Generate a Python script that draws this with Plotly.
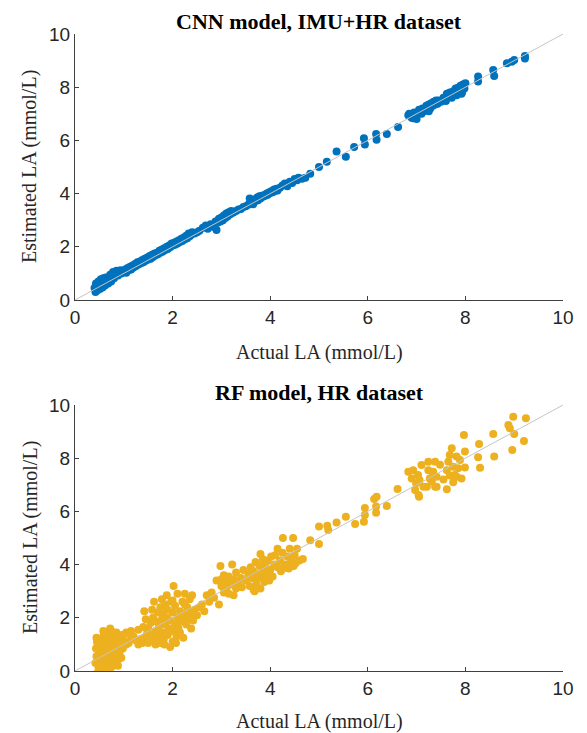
import plotly.graph_objects as go

# ---------------- data ----------------
cnn_x = [0.40,0.42,0.43,0.45,0.47,0.48,0.50,0.52,0.53,0.55,0.57,0.58,0.60,0.62,0.63,0.65,0.68,0.70,0.72,0.74,
         0.76,0.78,0.80,0.83,0.85,0.88,0.90,0.93,0.95,0.98,1.00,1.03,1.05,1.08,1.10,1.13,1.15,1.18,1.20,1.23,
         1.25,1.28,1.30,1.33,1.35,1.38,1.40,1.43,1.45,1.48,1.50,1.53,1.55,1.58,1.60,1.63,1.65,1.68,1.70,1.73,
         1.75,1.78,1.80,1.83,1.85,1.88,1.90,1.93,1.95,1.98,2.00,2.03,2.05,2.08,2.10,2.13,2.15,2.18,2.20,2.23,
         2.25,2.28,2.30,2.33,2.35,2.38,2.40,2.45,2.50,2.55,2.62,2.68,2.72,2.78,2.82,2.88,2.90,2.92,2.95,2.98,
         3.00,3.03,3.05,3.08,3.10,3.13,3.15,3.18,3.20,3.23,3.25,3.30,3.35,3.40,3.45,3.50,3.55,3.58,3.60,3.63,
         3.65,3.68,3.70,3.73,3.75,3.78,3.80,3.83,3.85,3.88,3.90,3.93,3.95,3.98,4.00,4.03,4.05,4.08,4.10,4.13,
         4.15,4.20,4.25,4.30,4.35,4.40,4.45,4.50,4.55,4.58,
         4.65,4.72,4.82,5.00,5.16,5.36,5.55,5.72,5.92,5.94,6.17,6.18,6.39,6.62,
         6.83,6.85,6.90,6.93,6.95,7.00,7.00,7.05,7.10,7.12,7.15,7.20,7.22,7.25,7.25,7.28,7.30,7.33,7.35,7.38,
         7.40,7.43,7.45,7.50,7.55,7.60,7.60,7.62,7.65,7.68,7.70,7.72,7.75,7.78,7.80,7.82,7.85,7.88,7.90,7.92,
         7.93,7.95,7.98,8.00,
         8.26,8.26,8.57,8.59,8.85,8.95,9.00,9.22,9.22]
cnn_y = [0.45,0.30,0.62,0.50,0.38,0.70,0.55,0.42,0.78,0.60,0.48,0.82,0.66,0.55,0.85,0.72,0.62,0.80,0.95,0.70,
         0.88,1.05,0.82,0.98,1.10,0.92,1.05,1.12,1.00,1.08,1.05,1.15,1.02,1.20,1.12,1.25,1.15,1.30,1.22,1.35,
         1.28,1.42,1.33,1.45,1.38,1.50,1.42,1.55,1.48,1.60,1.52,1.65,1.55,1.70,1.62,1.75,1.68,1.78,1.72,1.85,
         1.78,1.90,1.82,1.95,1.88,2.00,1.92,2.05,1.98,2.12,2.05,2.15,2.08,2.20,2.12,2.25,2.18,2.30,2.22,2.35,
         2.28,2.42,2.32,2.50,2.40,2.45,2.55,2.50,2.55,2.60,2.72,2.80,2.68,2.85,2.75,2.95,2.63,2.90,3.05,2.95,
         3.10,3.00,3.18,3.08,3.25,3.15,3.30,3.22,3.35,3.28,3.30,3.35,3.40,3.42,3.50,3.52,3.58,3.82,3.62,3.70,
         3.60,3.78,3.72,3.85,3.75,3.90,3.82,3.92,3.88,3.95,3.92,4.00,3.96,4.05,4.02,4.10,4.05,4.15,4.10,4.18,
         4.12,4.22,4.30,4.38,4.28,4.45,4.40,4.55,4.50,4.60,
         4.56,4.60,4.75,5.00,5.20,5.58,5.39,5.75,6.08,5.85,6.24,6.02,6.24,6.50,
         6.95,7.00,6.85,6.83,7.05,6.95,6.80,7.15,7.00,7.20,7.10,7.30,7.15,7.35,7.10,7.20,7.40,7.30,7.45,7.35,
         7.50,7.38,7.50,7.45,7.60,7.55,7.48,7.75,7.65,7.80,7.70,7.60,7.85,7.75,7.95,7.70,7.98,7.85,8.05,7.75,
         7.80,8.10,7.95,8.15,
         8.40,8.21,8.65,8.42,8.90,8.96,9.02,9.17,9.08]

rf_x = [0.45,0.42,0.44,0.43,0.45,0.44,0.48,0.50,0.49,0.50,0.52,0.53,0.55,0.56,0.55,0.57,0.58,0.60,0.61,0.62,
        0.60,0.63,0.62,0.65,0.66,0.67,0.68,0.66,0.70,0.71,0.72,0.70,0.73,0.72,0.75,0.76,0.77,0.78,0.76,0.79,
        0.80,0.82,0.83,0.81,0.84,0.86,0.87,0.88,0.90,0.89,0.92,0.93,0.95,0.96,0.98,1.00,0.58,0.47,0.64,0.53,
        0.74,0.85,
        1.05,1.10,1.10,1.15,1.20,1.25,1.30,1.30,1.35,1.38,1.40,1.15,1.05,
        1.42,1.45,1.45,1.50,1.50,1.55,1.55,1.60,1.60,1.62,1.65,1.65,1.68,1.70,1.70,1.72,1.75,1.75,1.78,1.80,
        1.80,1.82,1.85,1.85,1.88,1.90,1.90,1.92,1.95,1.95,1.97,2.00,2.00,2.00,2.02,2.05,2.05,2.08,2.10,2.10,
        2.12,2.15,2.15,2.18,2.20,2.20,2.22,2.25,2.25,2.28,2.30,2.32,2.35,2.35,2.38,2.40,2.40,2.42,2.45,1.58,
        1.48,1.78,1.88,1.83,1.73,2.00,2.07,2.25,
        2.50,2.55,2.60,2.65,2.70,2.75,2.80,2.85,2.90,
        2.95,2.98,3.00,3.00,3.05,3.05,3.10,3.10,3.15,3.15,3.20,3.22,3.25,3.25,3.30,3.30,3.35,3.40,3.42,3.45,
        3.50,3.55,3.58,3.60,3.62,3.65,3.68,3.70,3.70,3.72,3.75,3.78,3.80,3.80,3.82,3.85,3.85,3.88,3.90,3.92,
        3.95,3.98,4.00,4.02,4.05,4.08,3.66,
        4.10,4.15,4.15,4.20,4.22,4.25,4.26,4.28,4.30,4.35,4.38,4.40,4.42,4.44,4.47,4.48,4.50,4.52,4.55,4.60,
        4.67,4.82,5.00,5.00,5.17,5.19,5.36,5.55,5.74,5.92,5.94,5.94,6.13,6.18,6.17,6.17,6.39,6.61,
        6.83,6.93,7.03,6.99,7.06,7.05,7.10,7.24,7.38,7.24,7.34,7.31,7.21,7.38,7.41,7.62,7.72,7.68,7.65,7.75,
        7.62,7.78,7.82,7.99,7.85,7.92,7.82,7.99,7.97,7.89,7.48,7.34,7.27,7.41,7.14,6.97,6.90,7.04,7.55,7.68,
        7.75,
        8.28,8.26,8.30,8.57,8.59,8.88,8.91,8.98,9.00,9.20,8.96,9.24]
rf_y = [-0.08,0.30,0.55,0.85,1.10,1.25,0.15,0.40,0.70,0.95,1.20,0.05,0.25,0.55,0.80,1.05,1.30,0.10,0.35,0.65,
        0.90,1.15,1.40,0.20,0.50,0.75,1.00,1.25,0.30,0.60,0.85,1.10,1.35,1.60,0.15,0.45,0.70,0.95,1.20,1.45,
        0.55,0.30,0.80,1.05,1.30,0.60,0.90,0.20,0.45,1.15,0.75,1.00,0.50,1.35,0.85,1.15,1.50,1.00,0.00,0.60,
        1.50,1.45,
        1.45,1.40,1.05,1.20,1.30,1.15,1.00,1.55,1.20,1.05,1.65,1.50,1.00,
        2.25,1.95,1.30,1.60,1.05,1.80,1.35,2.00,1.15,2.60,1.50,1.00,1.85,2.20,1.30,1.65,1.05,2.40,1.95,1.45,
        2.15,1.20,1.75,2.50,2.00,1.35,2.30,1.60,0.90,1.90,2.60,1.10,1.50,2.20,3.20,1.75,2.45,1.30,2.00,2.90,
        1.60,2.25,1.45,1.85,2.60,1.95,1.25,2.15,2.90,1.75,2.40,1.95,2.70,2.20,1.60,2.85,2.10,1.90,2.30,2.30,
        1.45,2.70,2.85,1.00,1.20,2.65,1.05,2.50,
        2.10,2.40,2.50,2.25,2.85,2.60,2.95,2.75,3.40,
        2.50,3.95,3.20,3.45,2.95,3.60,3.10,3.35,3.55,2.90,3.25,4.00,2.85,3.45,3.10,3.70,3.30,3.50,3.15,3.80,
        3.40,3.65,3.20,3.90,3.50,3.75,3.00,4.10,3.45,3.25,3.65,3.95,4.40,3.10,3.50,4.20,3.75,3.35,3.95,3.60,
        4.15,3.40,3.80,4.30,3.55,4.00,3.05,
        4.35,3.90,4.60,4.15,3.75,4.45,5.00,3.87,4.00,4.30,3.85,4.60,4.20,4.11,5.00,3.95,4.35,4.05,4.60,4.15,
        4.21,4.92,5.43,4.77,5.46,5.30,5.58,5.80,5.53,5.61,5.86,6.13,6.47,6.55,6.18,5.95,6.20,6.84,
        7.49,7.55,7.37,7.06,7.18,6.55,7.74,7.87,7.87,7.55,7.43,7.12,6.93,6.93,7.30,6.83,8.37,8.12,7.87,7.68,
        7.55,7.37,8.06,8.25,7.62,7.24,7.30,7.65,8.87,7.93,7.75,7.49,7.24,6.93,6.93,6.80,7.24,6.62,7.20,7.35,
        7.10,
        8.53,8.04,7.64,8.91,8.06,9.25,9.13,9.56,8.91,8.65,8.31,9.50]

ref_line = [0, 10]
tick_vals = [0, 2, 4, 6, 8, 10]
titles = ["CNN model, IMU+HR dataset", "RF model, HR dataset"]
x_title = "Actual LA (mmol/L)"
y_title = "Estimated LA (mmol/L)"

BLUE = "#0072BD"
YELLOW = "#EDB120"
OFF = 8                      # page body margin of the html page
W, H = 587 - OFF, 733 - OFF

fig = go.Figure()

# top panel
fig.add_trace(go.Scatter(x=cnn_x, y=cnn_y, mode="markers", xaxis="x", yaxis="y",
                         marker=dict(color=BLUE, size=8, line=dict(width=0)), showlegend=False))
fig.add_trace(go.Scatter(x=ref_line, y=ref_line, mode="lines", xaxis="x", yaxis="y",
                         line=dict(color="#c4c4c4", width=1), showlegend=False))
# bottom panel
fig.add_trace(go.Scatter(x=rf_x, y=rf_y, mode="markers", xaxis="x2", yaxis="y2",
                         marker=dict(color=YELLOW, size=8, line=dict(width=0)), showlegend=False))
fig.add_trace(go.Scatter(x=ref_line, y=ref_line, mode="lines", xaxis="x2", yaxis="y2",
                         line=dict(color="#c4c4c4", width=1), showlegend=False))

def py(px):
    # window pixel row -> paper fraction
    return 1 - (px - OFF) / H

axis_common = dict(range=[0, 10], tickvals=tick_vals, ticks="inside", ticklen=4,
                   tickcolor="#404040", showline=True, linecolor="#404040", linewidth=1,
                   showgrid=False, zeroline=False, automargin=False,
                   tickfont=dict(family="Liberation Sans, Arial", size=19, color="#262626"))

fig.update_layout(
    width=W, height=H,
    margin=dict(l=75 - OFF, r=24, t=0, b=0),
    plot_bgcolor="white", paper_bgcolor="white",
    xaxis=dict(domain=[0, 1], anchor="y", **axis_common),
    yaxis=dict(domain=[py(300), py(34)], anchor="x", **axis_common),
    xaxis2=dict(domain=[0, 1], anchor="y2", **axis_common),
    yaxis2=dict(domain=[py(671), py(405)], anchor="x2", **axis_common),
)

serif = "Liberation Serif, Times New Roman"
ann = []
for ty, xty, yty, t in [(22, 352, 167, titles[0]), (392, 721, 538, titles[1])]:
    ann.append(dict(text="<b>%s</b>" % t, x=0.5, y=py(ty), xref="paper", yref="paper",
                    showarrow=False, xanchor="center", yanchor="middle",
                    font=dict(family=serif, size=22, color="black")))
    ann.append(dict(text=x_title, x=0.5, y=py(xty), xref="paper", yref="paper",
                    showarrow=False, xanchor="center", yanchor="middle",
                    font=dict(family=serif, size=20, color="#262626")))
    ann.append(dict(text=y_title, x=(30 - 75) / 488, y=py(yty), xref="paper", yref="paper",
                    showarrow=False, xanchor="center", yanchor="middle", textangle=-90,
                    font=dict(family=serif, size=20, color="#262626")))
fig.update_layout(annotations=ann)

fig.write_html("out.html")
